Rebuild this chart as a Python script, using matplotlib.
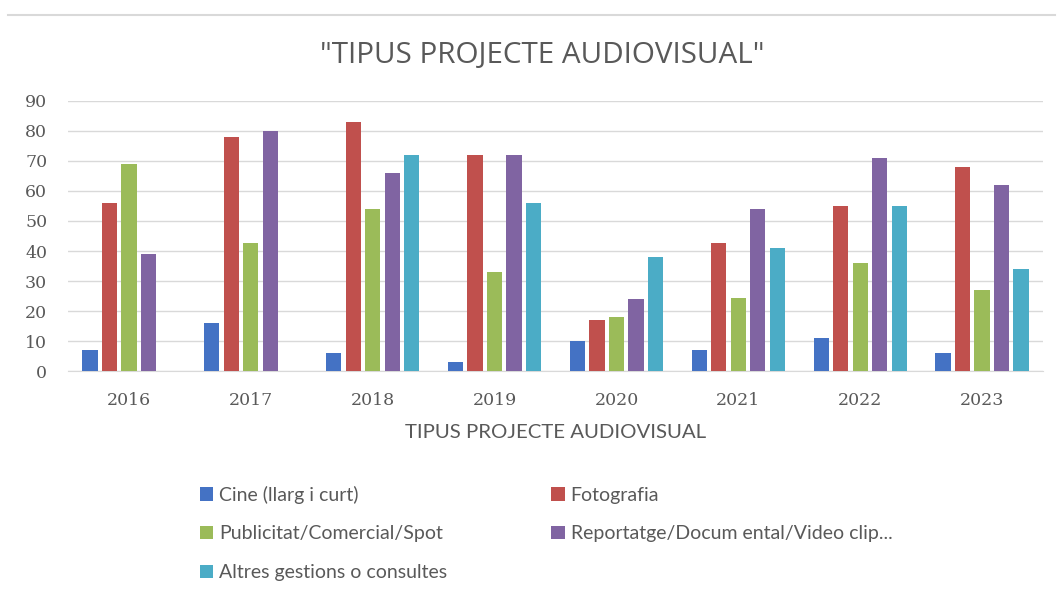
import matplotlib.pyplot as plt
import numpy as np
from matplotlib.lines import Line2D

years = ['2016', '2017', '2018', '2019', '2020', '2021', '2022', '2023']
series = ['Cine (llarg i curt)', 'Fotografia', 'Publicitat/Comercial/Spot',
          'Reportatge/Docum ental/Video clip...', 'Altres gestions o consultes']
cine = [7, 16, 6, 3, 10, 7, 11, 6]
foto = [56, 78, 83, 72, 17, 42.5, 55, 68]
publi = [69, 42.5, 54, 33, 18, 24.5, 36, 27]
reportatge = [39, 80, 66, 72, 24, 54, 71, 62]
altres = [0, 0, 72, 56, 38, 41, 55, 34]
colors = ['#4472c4', '#c0504d', '#9bbb59', '#8064a2', '#4bacc6']

grey = '#595959'
fig = plt.figure(figsize=(10.59, 5.94), dpi=100)
ax = fig.add_axes([68 / 1059, 1 - 371 / 594, 975 / 1059, 270 / 594])

x = np.arange(len(years))
step = 0.16
width = 0.125
bars = []
for i, (vals, c) in enumerate(zip([cine, foto, publi, reportatge, altres], colors)):
    b = ax.bar(x + (i - 2) * step, vals, width, color=c, label=series[i], zorder=3)
    bars.append(b)

ax.set_xlim(-0.5, len(years) - 0.5)
ax.set_ylim(0, 90)
ax.set_yticks(range(0, 91, 10))
ax.set_xticks(x)
ax.set_xticklabels(years)
ax.grid(axis='y', color='#d9d9d9', linewidth=1, zorder=0)
for s in ['top', 'right', 'left']:
    ax.spines[s].set_visible(False)
ax.spines['bottom'].set_color('#d9d9d9')
ax.tick_params(axis='both', length=0, colors=grey, labelsize=12.5)
ax.tick_params(axis='y', pad=15)
ax.tick_params(axis='x', pad=15)
for lab in ax.get_xticklabels() + ax.get_yticklabels():
    lab.set_fontfamily('DejaVu Serif')

ax.set_xlabel('TIPUS PROJECTE AUDIOVISUAL', color=grey, fontsize=14.7,
              family='Lato', labelpad=11)
fig.text(0.512, 1 - 55 / 594, '"TIPUS PROJECTE AUDIOVISUAL"', ha='center', va='center',
         color=grey, fontsize=21.3, family='Open Sans')

order = [0, 2, 4, 1, 3]
leg = fig.legend([bars[i] for i in order], [series[i] for i in order], ncol=2,
                 loc='upper left', bbox_to_anchor=(182 / 1059, 1 - 468 / 594),
                 frameon=False, handlelength=0.7, handleheight=0.7,
                 handletextpad=0.3, labelspacing=1.12, columnspacing=5.35,
                 prop={'family': 'Lato', 'size': 14})
for t in leg.get_texts():
    t.set_color(grey)

fig.add_artist(Line2D([8 / 1059, 1055 / 1059], [1 - 15 / 594, 1 - 15 / 594],
                      color='#d9d9d9', linewidth=1.5))

fig.savefig('out.png', dpi=100)
